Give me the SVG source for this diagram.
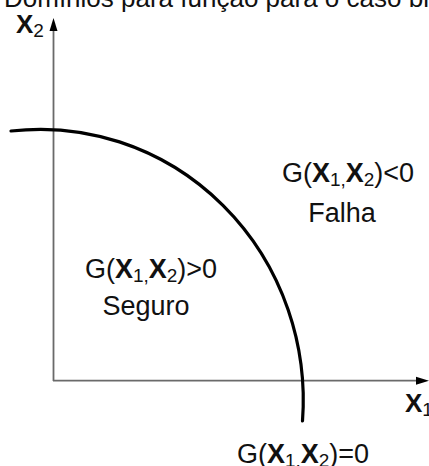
<svg xmlns="http://www.w3.org/2000/svg" width="429" height="466" viewBox="0 0 429 466">
<style>
text{font-family:"Liberation Sans",Arial,sans-serif;font-size:26px;fill:#111}
.l{font-size:27px}
.b{font-weight:bold}
.s{font-size:19px}
.axis{stroke:#6a6a6a;stroke-width:1.8;fill:none}
.curve{stroke:#000;stroke-width:3.2;fill:none;stroke-linecap:round}
</style>
<rect width="429" height="466" fill="#fff"/>
<text id="title" x="4" y="7">Domínios para função para o caso bi</text>
<g id="connectors">
<line class="axis" x1="53.5" y1="381" x2="53.5" y2="28"/>
<line class="axis" x1="53" y1="380.7" x2="419" y2="380.7"/>
<polygon points="53.5,18 49.5,31 57.5,31" fill="#000"/>
<polygon points="429,380.7 416,376.7 416,384.7" fill="#000"/>
</g>
<g id="limit-curve">
<path class="curve" d="M 11,131 A 263 271 0 0 1 302.5,421"/>
</g>
<g id="label-x2"><text x="16" y="33"><tspan class="b">X</tspan><tspan class="s" dy="4">2</tspan></text></g>
<g id="label-x1"><text x="405" y="412"><tspan class="b">X</tspan><tspan class="s" dy="4">1</tspan></text></g>
<g id="falha">
<text class="l" x="348" y="182" text-anchor="middle">G(<tspan class="b">X</tspan><tspan class="s" dy="4">1,</tspan><tspan class="b" dy="-4">X</tspan><tspan class="s" dy="4">2</tspan><tspan dy="-4">)&lt;0</tspan></text>
<text class="l" x="342" y="222" text-anchor="middle">Falha</text>
</g>
<g id="seguro">
<text class="l" x="151" y="278" text-anchor="middle">G(<tspan class="b">X</tspan><tspan class="s" dy="4">1,</tspan><tspan class="b" dy="-4">X</tspan><tspan class="s" dy="4">2</tspan><tspan dy="-4">)&gt;0</tspan></text>
<text class="l" x="146" y="315" text-anchor="middle">Seguro</text>
</g>
<g id="limite">
<text class="l" x="303" y="463" text-anchor="middle">G(<tspan class="b">X</tspan><tspan class="s" dy="4">1,</tspan><tspan class="b" dy="-4">X</tspan><tspan class="s" dy="4">2</tspan><tspan dy="-4">)=0</tspan></text>
</g>
</svg>
